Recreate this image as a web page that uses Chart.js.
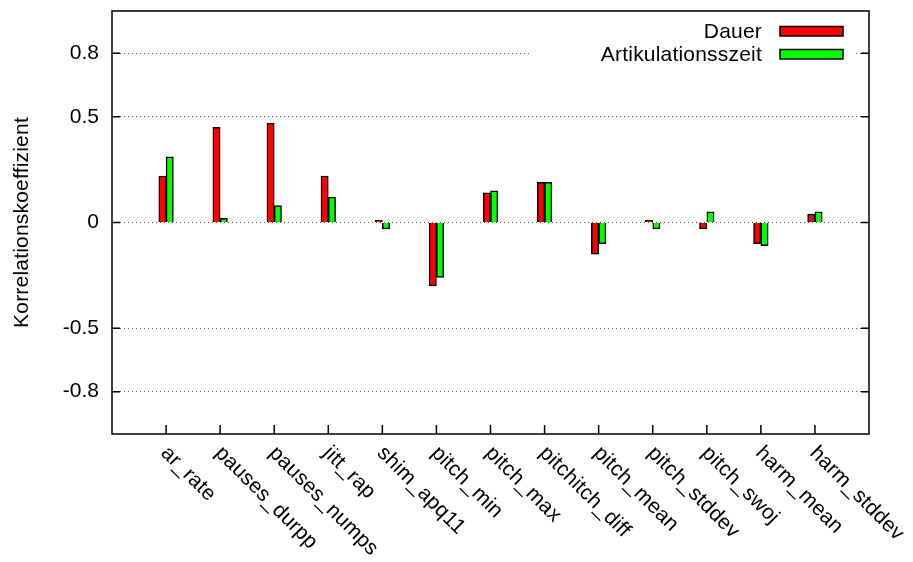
<!DOCTYPE html>
<html>
<head>
<meta charset="utf-8">
<script src="https://cdn.jsdelivr.net/npm/chart.js@4/dist/chart.umd.min.js"></script>
<style>
  html, body { margin: 0; padding: 0; background: #fff; }
  #wrap { width: 913px; height: 562px; }
</style>
</head>
<body>
<div id="wrap"><canvas id="c" width="913" height="562"></canvas></div>
<script>
// Features and their correlation with the two durations
const categories = ['ar_rate', 'pauses_durpp', 'pauses_numps', 'jitt_rap', 'shim_apq11',
  'pitch_min', 'pitch_max', 'pitchitch_diff', 'pitch_mean', 'pitch_stddev',
  'pitch_swoj', 'harm_mean', 'harm_stddev'];
const dauer = [0.22, 0.45, 0.47, 0.22, 0.01, -0.30, 0.14, 0.19, -0.15, 0.01, -0.03, -0.10, 0.04];
const artikulation = [0.31, 0.02, 0.08, 0.12, -0.03, -0.26, 0.15, 0.19, -0.10, -0.03, 0.05, -0.11, 0.05];
const yTicks = [-0.8, -0.5, 0, 0.5, 0.8];
const seriesNames = ['Dauer', 'Artikulationsszeit'];
const seriesColors = ['#ff0000', '#00ff00'];
const yTitle = 'Korrelationskoeffizient';

const FONT = '"Liberation Sans", Arial, Helvetica, sans-serif';
const FONT_SIZE = 21;

const toPoints = arr => arr.map((v, i) => ({ x: i, y: v }));

// gnuplot-like frame, mirrored ticks, rotated category labels, legend and axis title
const decor = {
  id: 'decor',
  beforeDatasetsDraw(chart) {
    const { ctx, chartArea: a } = chart;
    // keep the key area free of grid lines
    ctx.save();
    ctx.fillStyle = '#fff';
    ctx.fillRect(531, a.top + 1, 324, 54);
    ctx.restore();
  },
  afterDatasetsDraw(chart) {
    const { ctx, chartArea: a, scales } = chart;
    const xs = scales.x, ys = scales.y;
    ctx.save();
    ctx.strokeStyle = '#000';
    ctx.lineWidth = 1.5;
    ctx.strokeRect(a.left, a.top, a.right - a.left, a.bottom - a.top);
    ctx.beginPath();
    yTicks.forEach(v => {
      const py = ys.getPixelForValue(v);
      ctx.moveTo(a.left, py); ctx.lineTo(a.left + 8, py);
      ctx.moveTo(a.right, py); ctx.lineTo(a.right - 8, py);
    });
    categories.forEach((c, i) => {
      const px = xs.getPixelForValue(i);
      ctx.moveTo(px, a.bottom); ctx.lineTo(px, a.bottom - 9);
    });
    ctx.stroke();

    // category labels, rotated clockwise
    ctx.fillStyle = '#000';
    ctx.font = FONT_SIZE + 'px ' + FONT;
    if ('letterSpacing' in ctx) ctx.letterSpacing = '0.2px';
    ctx.textAlign = 'left';
    ctx.textBaseline = 'alphabetic';
    categories.forEach((c, i) => {
      const px = xs.getPixelForValue(i);
      ctx.save();
      ctx.translate(px - 6, a.bottom + 20);
      ctx.rotate(Math.PI / 4);
      ctx.fillText(c, 0, 0);
      ctx.restore();
    });

    // y axis title
    ctx.save();
    ctx.translate(22, (a.top + a.bottom) / 2);
    ctx.rotate(-Math.PI / 2);
    ctx.textAlign = 'center';
    ctx.textBaseline = 'middle';
    ctx.fillText(yTitle, 0, 0);
    ctx.restore();

    // key
    ctx.textAlign = 'right';
    seriesNames.forEach((name, k) => {
      const base = 38 + k * 23;
      ctx.fillStyle = '#000';
      ctx.fillText(name, 762, base);
      ctx.fillStyle = seriesColors[k];
      ctx.fillRect(780, base - 11.5, 63, 9.5);
      ctx.lineWidth = 1.5;
      ctx.strokeRect(780, base - 11.5, 63, 9.5);
    });
    ctx.restore();
  }
};

new Chart(document.getElementById('c'), {
  type: 'bar',
  data: {
    datasets: [
      { label: seriesNames[0], data: toPoints(dauer), backgroundColor: seriesColors[0],
        borderColor: '#000', borderWidth: 1.5, barThickness: 7.3 },
      { label: seriesNames[1], data: toPoints(artikulation), backgroundColor: seriesColors[1],
        borderColor: '#000', borderWidth: 1.5, barThickness: 7.3 }
    ]
  },
  options: {
    responsive: false,
    animation: false,
    devicePixelRatio: 1,
    layout: { padding: { left: 0, top: 11, right: 44, bottom: 0 } },
    plugins: { legend: { display: false }, tooltip: { enabled: false } },
    scales: {
      x: {
        type: 'linear',
        min: -1, max: 13,
        offset: false,
        ticks: { display: false },
        grid: { display: false },
        border: { display: false },
        afterFit(s) { s.height = 128; s.paddingLeft = 0; s.paddingRight = 0; }
      },
      y: {
        min: -1, max: 1,
        afterBuildTicks(s) { s.ticks = yTicks.map(v => ({ value: v })); },
        ticks: {
          padding: 13,
          color: '#000',
          font: { family: FONT, size: FONT_SIZE },
          callback: v => String(v)
        },
        grid: { color: '#555', lineWidth: 1, drawTicks: false },
        border: { display: false, dash: [1, 3] },
        afterFit(s) { s.width = 112; s.paddingTop = 0; s.paddingBottom = 0; }
      }
    }
  },
  plugins: [decor]
});
</script>
</body>
</html>
